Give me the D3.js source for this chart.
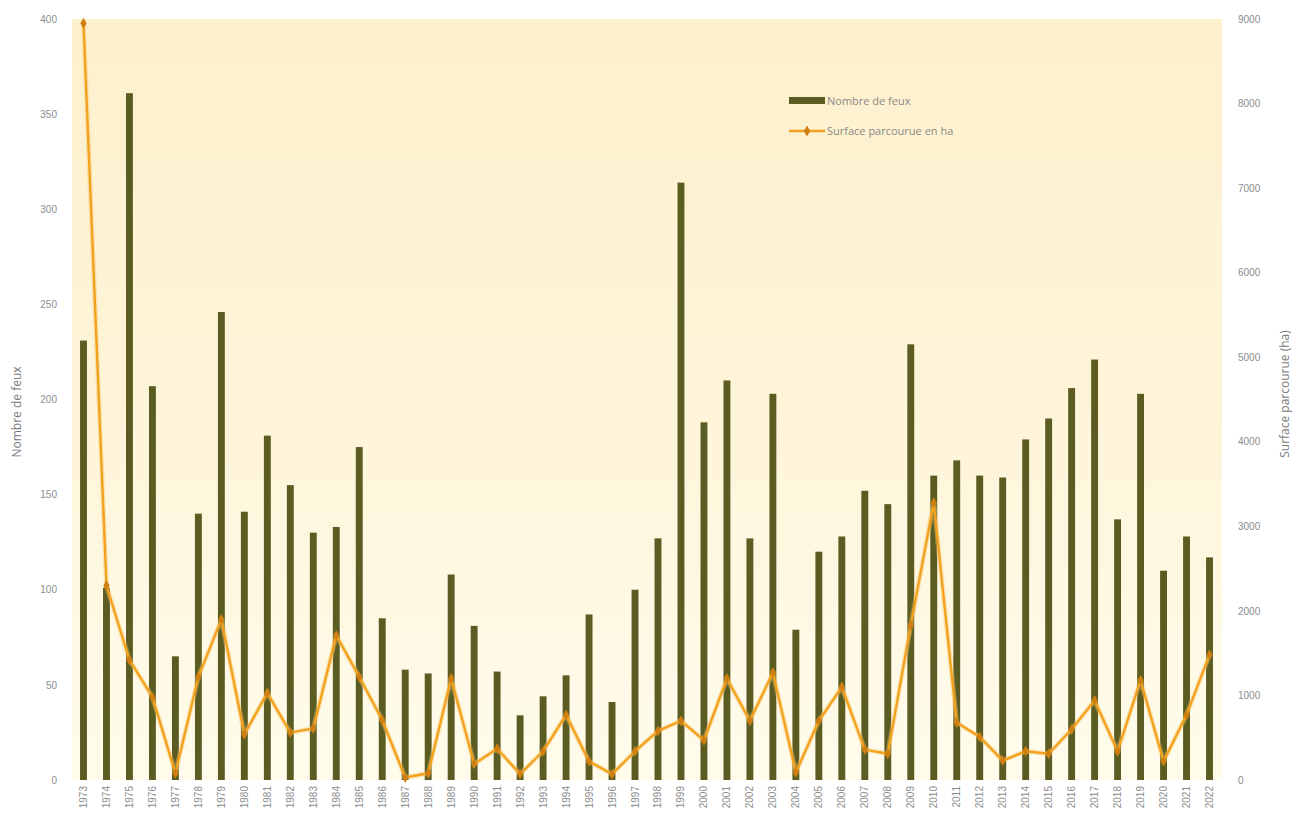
<!DOCTYPE html>
<html><head><meta charset="utf-8">
<script src="https://cdn.jsdelivr.net/npm/d3@7"></script>
<style>html,body{margin:0;padding:0;background:#fff;}svg{display:block;font-family:"Open Sans","Liberation Sans",sans-serif;}</style>
</head><body>
<svg id="chart" width="1309" height="828"></svg>
<script>
const years = ["1973","1974","1975","1976","1977","1978","1979","1980","1981","1982","1983","1984","1985","1986","1987","1988","1989","1990","1991","1992","1993","1994","1995","1996","1997","1998","1999","2000","2001","2002","2003","2004","2005","2006","2007","2008","2009","2010","2011","2012","2013","2014","2015","2016","2017","2018","2019","2020","2021","2022"];
const nombreFeux = [231,101,361,207,65,140,246,141,181,155,130,133,175,85,58,56,108,81,57,34,44,55,87,41,100,127,314,188,210,127,203,79,120,128,152,145,229,160,168,160,159,179,190,206,221,137,203,110,128,117];
const surfaceHa = [8950,2300,1420,980,80,1220,1900,540,1030,560,610,1710,1220,710,30,80,1200,190,370,70,340,770,220,70,340,580,700,470,1200,700,1270,90,700,1100,360,310,1830,3280,680,510,230,340,310,600,940,340,1180,220,770,1480];
const leftTicks = [0,50,100,150,200,250,300,350,400];
const rightTicks = [0,1000,2000,3000,4000,5000,6000,7000,8000,9000];
const seriesNames = ["Nombre de feux","Surface parcourue en ha"];
const axisTitles = ["Nombre de feux","Surface parcourue (ha)"];

const svg = d3.select("#chart");
const m = {left:72, right:1221, top:19, bottom:780};
const x = d3.scaleBand().domain(years).range([m.left, m.right]).paddingInner(0.7).paddingOuter(0.35);
const yL = d3.scaleLinear().domain([0,400]).range([m.bottom, m.top]);
const yR = d3.scaleLinear().domain([0,9000]).range([m.bottom, m.top]);

const defs = svg.append("defs");
const g = defs.append("linearGradient").attr("id","bg").attr("x1",0).attr("y1",0).attr("x2",0).attr("y2",1);
g.append("stop").attr("offset","0%").attr("stop-color","#fdf0cc");
g.append("stop").attr("offset","55%").attr("stop-color","#fef5da");
g.append("stop").attr("offset","100%").attr("stop-color","#fffcec");
svg.append("rect").attr("x",m.left).attr("y",m.top).attr("width",m.right-m.left+1).attr("height",m.bottom-m.top).attr("fill","url(#bg)");

const grey = "#8c8c8c";
const fmt = d3.format("d");
// left axis
const axL = svg.append("g").attr("transform",`translate(${m.left},0)`)
  .call(d3.axisLeft(yL).tickValues(leftTicks).tickFormat(fmt).tickSize(0).tickPadding(15));
axL.select(".domain").remove();
axL.selectAll("text").attr("fill",grey).style("font-size","10px");
// right axis
const axR = svg.append("g").attr("transform",`translate(${m.right},0)`)
  .call(d3.axisRight(yR).tickValues(rightTicks).tickFormat(fmt).tickSize(0).tickPadding(17));
axR.select(".domain").remove();
axR.selectAll("text").attr("fill",grey).style("font-size","10px");
// x axis
const axX = svg.append("g").attr("transform",`translate(0,${m.bottom})`)
  .call(d3.axisBottom(x).tickSize(0).tickPadding(0));
axX.select(".domain").remove();
axX.selectAll("text").attr("fill",grey).style("font-size","10px")
  .attr("transform","rotate(-90)").attr("text-anchor","end").attr("dy","0.35em").attr("x",-6).attr("y",0);

// axis titles
svg.append("text").attr("transform",`translate(21,412) rotate(-90)`).attr("text-anchor","middle")
  .attr("fill","#7a7a7a").style("font-size","12px").text(axisTitles[0]);
svg.append("text").attr("transform",`translate(1289,394) rotate(-90)`).attr("text-anchor","middle")
  .attr("fill","#7a7a7a").style("font-size","12px").text(axisTitles[1]);

// bars
const barColor = "#5a5c22";
svg.append("g").selectAll("rect").data(years).join("rect")
  .attr("x", d=>x(d)).attr("width", x.bandwidth())
  .attr("y", (d,i)=>yL(nombreFeux[i])).attr("height",(d,i)=>yL(0)-yL(nombreFeux[i]))
  .attr("fill", barColor);

// line
const lineColor = "#f2a21e";
const line = d3.line().x((d,i)=>x(years[i])+x.bandwidth()/2).y(d=>yR(d));
svg.append("path").datum(surfaceHa).attr("d",line).attr("fill","none")
  .attr("stroke","#f8c870").attr("stroke-width",5).attr("stroke-opacity",0.4).attr("stroke-linejoin","round");
svg.append("path").datum(surfaceHa).attr("d",line).attr("fill","none")
  .attr("stroke",lineColor).attr("stroke-width",2.4).attr("stroke-linejoin","round");
const diamond = d3.symbol().type(d3.symbolDiamond).size(34);
svg.append("g").selectAll("path").data(surfaceHa).join("path")
  .attr("d", diamond)
  .attr("transform",(d,i)=>`translate(${x(years[i])+x.bandwidth()/2},${yR(d)})`)
  .attr("fill","#cf7f10");

// legend
const lg = svg.append("g");
lg.append("rect").attr("x",789).attr("y",97).attr("width",36).attr("height",7).attr("fill",barColor);
lg.append("text").attr("x",827).attr("y",101).attr("dy","0.35em").attr("fill","#8a8a8a").style("font-size","11px").text(seriesNames[0]);
lg.append("line").attr("x1",789).attr("x2",825).attr("y1",131).attr("y2",131).attr("stroke",lineColor).attr("stroke-width",2.4);
lg.append("path").attr("d",diamond).attr("transform","translate(807,131)").attr("fill","#cf7f10");
lg.append("text").attr("x",827).attr("y",131).attr("dy","0.35em").attr("fill","#8a8a8a").style("font-size","11px").text(seriesNames[1]);
</script>
</body></html>
